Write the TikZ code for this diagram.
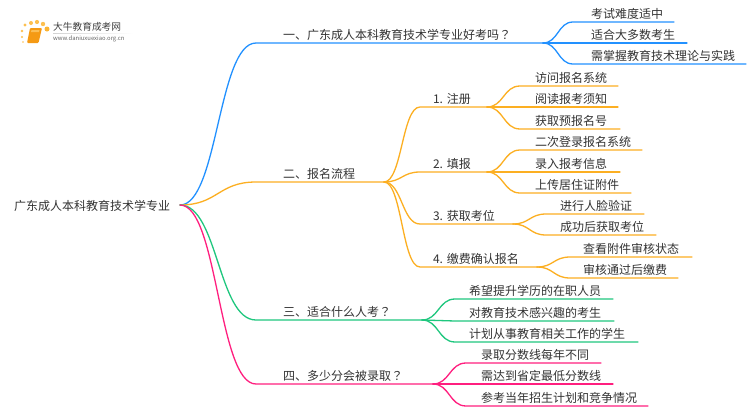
\documentclass[tikz,border=0pt]{standalone}
\usepackage{fontspec}
\setmainfont{Noto Sans CJK SC}
\newfontfamily\tcfont{Noto Sans CJK TC}
\newcommand{\qm}{{\tcfont ？}}
\usetikzlibrary{calc}
\definecolor{cblue}{HTML}{2291FF}
\definecolor{corange}{HTML}{FCAF22}
\definecolor{cgreen}{HTML}{1FC77E}
\definecolor{cpink}{HTML}{FF1F7F}
\definecolor{ctext}{HTML}{333333}
\definecolor{ldota}{HTML}{FCB432}
\definecolor{ldotb}{HTML}{FDC050}
\definecolor{lbook}{HTML}{F59A14}
\definecolor{lpage}{HTML}{FBBE55}
\tikzset{
  mapnode/.style={inner sep=0pt,outer sep=0pt,anchor=south west,align=left,font=\fontsize{12}{12}\selectfont,text=ctext,minimum height=15pt,text depth=2pt},
  link/.style={line width=1.3pt,line cap=round},
}
% name, line start x, line y, line end x, text offset, text
\newcommand{\mapbox}[6]{\pgfmathsetmacro{\mw}{#4-#2}\node[mapnode,minimum width=\mw pt,text width=\mw pt] (#1) at (#2,#3) {\hspace*{#5pt}#6};}
% colour, from, to node
\newcommand{\maplink}[3]{\coordinate (mid) at ($(#2)!0.5!(#3.south west)$);\draw[link,#1] (#2) .. controls (mid |- #2) and (mid |- #3.south west) .. (#3.south west) -- (#3.south east);}
\begin{document}
\begin{tikzpicture}[x=1pt,y=-1pt]
\useasboundingbox (0,0) rectangle (750,410);
\fill[white] (0,0) rectangle (750,410);
% logo
\fill[ldota] (47,29) circle (2.5);
\foreach \p/\r in {{(43,24)/2.2},{(37,22)/2.1},{(31,23)/2},{(25,25)/1.6},{(22,31)/1.3},{(22,37)/1.1},{(23,42)/0.9}}{\fill[ldotb] \p circle (\r);}
\fill[lbook,rounded corners=1pt] (30,28) -- (42,28) -- (38.5,43) -- (27,43) -- cycle;
\fill[lpage] (31.5,30) -- (39.5,30) -- (39,32) -- (31,32) -- cycle;
\shade[left color=gray!35,right color=white] (53,33) rectangle (133,33.5);
\node[inner sep=0pt,anchor=west,text=black!75,font=\fontsize{9.7}{10}\selectfont] (logoa) at (53,27) {大牛教育成考网};
\node[inner sep=0pt,anchor=west,text=black!60,font=\fontsize{5.9}{6}\selectfont] (logob) at (53,39) {www.daniuxuexiao.org.cn};
% root
\node[inner sep=0pt,anchor=west,font=\fontsize{12}{12}\selectfont,text=ctext] (root) at (14,205.5) {广东成人本科教育技术学专业};
\coordinate (r) at (180,205);
% level 1
\mapbox{a}{256}{43}{543}{27}{一、广东成人本科教育技术学专业好考吗\qm}
\mapbox{b}{256}{182}{384}{27}{二、报名流程}
\mapbox{c}{256}{320}{422}{27}{三、适合什么人考\qm}
\mapbox{d}{256}{384}{433}{27}{四、多少分会被录取\qm}
% a leaves
\mapbox{a1}{573}{22}{674}{18}{考试难度适中}
\mapbox{a2}{573}{43}{687}{18}{适合大多数考生}
\mapbox{a3}{573}{64}{746}{18}{需掌握教育技术理论与实践}
% b level 2
\mapbox{b1}{420}{107}{487}{13}{1.\hspace{4pt}注册}
\mapbox{b2}{420}{172}{487}{13}{2.\hspace{4pt}填报}
\mapbox{b3}{420}{224}{513}{13}{3.\hspace{4pt}获取考位}
\mapbox{b4}{420}{267}{537}{13}{4.\hspace{4pt}缴费确认报名}
\mapbox{b11}{520}{86}{618}{15}{访问报名系统}
\mapbox{b12}{520}{107}{618}{15}{阅读报考须知}
\mapbox{b13}{520}{129}{620}{15}{获取预报名号}
\mapbox{b21}{520}{150}{642}{15}{二次登录报名系统}
\mapbox{b22}{520}{172}{620}{15}{录入报考信息}
\mapbox{b23}{520}{193}{631}{15}{上传居住证附件}
\mapbox{b31}{546}{214}{644}{14}{进行人脸验证}
\mapbox{b32}{546}{235}{656}{14}{成功后获取考位}
\mapbox{b41}{570}{257}{692}{13}{查看附件审核状态}
\mapbox{b42}{570}{278}{678}{13}{审核通过后缴费}
% c leaves
\mapbox{c1}{455}{299}{613}{14}{希望提升学历的在职人员}
\mapbox{c2}{455}{321}{614}{14}{对教育技术感兴趣的考生}
\mapbox{c3}{455}{342}{638}{14}{计划从事教育相关工作的学生}
% d leaves
\mapbox{d1}{466}{363}{601}{15}{录取分数线每年不同}
\mapbox{d2}{466}{384}{613}{15}{需达到省定最低分数线}
\mapbox{d3}{466}{406}{648}{15}{参考当年招生计划和竞争情况}
% connectors
\maplink{cblue}{r}{a}
\maplink{corange}{r}{b}
\maplink{cgreen}{r}{c}
\maplink{cpink}{r}{d}
\foreach \t in {a1,a2,a3}{\maplink{cblue}{a.south east}{\t}}
\foreach \t in {b1,b2,b3,b4}{\maplink{corange}{b.south east}{\t}}
\foreach \t in {b11,b12,b13}{\maplink{corange}{b1.south east}{\t}}
\foreach \t in {b21,b22,b23}{\maplink{corange}{b2.south east}{\t}}
\foreach \t in {b31,b32}{\maplink{corange}{b3.south east}{\t}}
\foreach \t in {b41,b42}{\maplink{corange}{b4.south east}{\t}}
\foreach \t in {c1,c2,c3}{\maplink{cgreen}{c.south east}{\t}}
\foreach \t in {d1,d2,d3}{\maplink{cpink}{d.south east}{\t}}
\end{tikzpicture}
\end{document}
